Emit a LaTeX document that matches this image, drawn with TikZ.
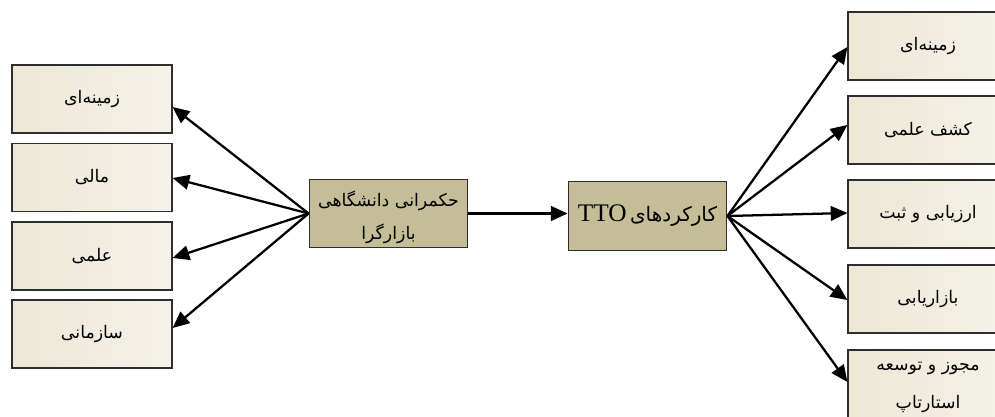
\documentclass[tikz,border=0pt]{standalone}
\usepackage{fontspec}
\setmainfont{Liberation Serif}
\newfontfamily\fa[Script=Arabic]{DejaVu Sans}
\TeXXeTstate=1
\usetikzlibrary{arrows.meta,calc}
\definecolor{boxedge}{HTML}{2E2E2E}
\definecolor{tan}{HTML}{C4BD97}
\definecolor{beigeA}{HTML}{ECE7D6}
\definecolor{beigeB}{HTML}{F5F2E9}
\begin{document}
\begin{tikzpicture}[x=0.75pt,y=-0.75pt,
  lbox/.style={draw=boxedge, line width=0.9pt, left color=beigeA, right color=beigeB,
    minimum width=120pt, minimum height=51pt, inner sep=0pt, font=\fa\fontsize{13}{16}\selectfont},
  cbox/.style={draw=boxedge, line width=0.9pt, fill=tan,
    minimum width=119pt, minimum height=51.5pt, inner sep=0pt},
  txt/.style={inner sep=0pt, font=\fa\fontsize{13}{16}\selectfont},
  arr/.style={line width=1.7pt, -{Triangle[length=12.5pt,width=11pt]}}]
\useasboundingbox (0,0) rectangle (995,417);
\clip (0,0) rectangle (995,417);
% left boxes
\node[lbox] (L1) at (92,99)    {\beginR زمینه‌ای\endR};
\node[lbox] (L2) at (92,177.5) {\beginR مالی\endR};
\node[lbox] (L3) at (92,256)   {\beginR علمی\endR};
\node[lbox] (L4) at (92,334)   {\beginR سازمانی\endR};
% centre boxes
\node[cbox] (A) at (388.5,213.5) {};
\node[txt] (At1) at (388.5,201) {\beginR حکمرانی دانشگاهی\endR};
\node[txt] (At2) at (388.5,234) {\beginR بازارگرا\endR};
\node[cbox] (B) at (647.5,216) {\beginR{\fa\fontsize{15}{18}\selectfont کارکردهای} \beginL{\fontsize{19}{22}\selectfont TTO}\endL\endR};
% right boxes
\node[lbox] (R1) at (928,46)  {\beginR زمینه‌ای\endR};
\node[lbox] (R2) at (928,130) {\beginR کشف علمی\endR};
\node[lbox] (R3) at (928,214) {\beginR ارزیابی و ثبت\endR};
\node[lbox] (R4) at (928,299) {\beginR بازاریابی\endR};
\node[lbox] (R5) at (928,384) {};
\node[txt] (R5t1) at (928,368) {\beginR مجوز و توسعه\endR};
\node[txt] (R5t2) at (928,404) {\beginR استارتاپ\endR};
% connectors
\draw[arr] (A.west) -- ($(L1.east)+(0,8)$);
\draw[arr] (A.west) -- ($(L2.east)+(0,0.5)$);
\draw[arr] (A.west) -- ($(L3.east)+(0,2)$);
\draw[arr] (A.west) -- ($(L4.east)+(0,-6)$);
\draw[arr] (A.east) -- ($(B.west)+(0,-2.5)$);
\draw[arr] (B.east) -- ($(R1.west)+(0,1)$);
\draw[arr] (B.east) -- ($(R2.west)+(0,-5)$);
\draw[arr] (B.east) -- ($(R3.west)+(0,-1)$);
\draw[arr] (B.east) -- ($(R4.west)+(0,1)$);
\draw[arr] (B.east) -- ($(R5.west)+(0,-2)$);
\end{tikzpicture}
\end{document}
